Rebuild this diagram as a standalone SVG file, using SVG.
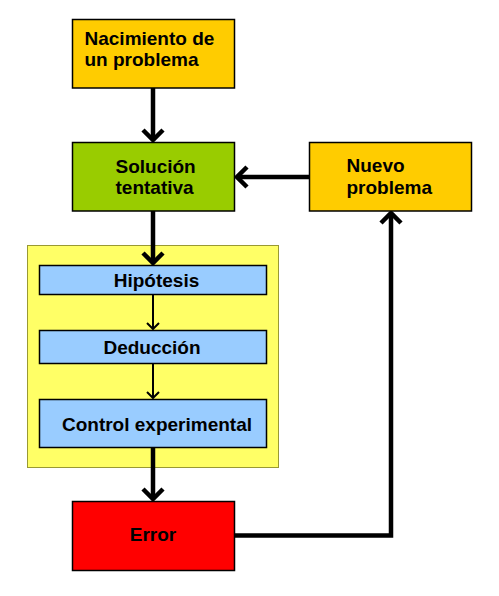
<svg xmlns="http://www.w3.org/2000/svg" width="499" height="596" viewBox="0 0 499 596">
<style>
.box{stroke:#000;stroke-width:1.5}
.t{font-family:"Liberation Sans",Arial,sans-serif;font-weight:bold;font-size:19px;fill:#000}
.thick{stroke:#000;stroke-width:4.5;fill:none}
.thin{stroke:#000;stroke-width:2;fill:none}
</style>
<defs>
<marker id="ah" markerUnits="userSpaceOnUse" viewBox="-14 -13 16 26" markerWidth="16" markerHeight="26" refX="0" refY="0" orient="auto">
<path d="M-10,-10 L0,0 L-10,10" fill="none" stroke="#000" stroke-width="4.5"/>
</marker>
<marker id="as" markerUnits="userSpaceOnUse" viewBox="-9 -8 10 16" markerWidth="10" markerHeight="16" refX="0" refY="0" orient="auto">
<path d="M-6,-6 L0,0 L-6,6" fill="none" stroke="#000" stroke-width="2"/>
</marker>
</defs>
<rect width="499" height="596" fill="#fff"/>
<g id="container">
<rect x="27.5" y="245.5" width="251" height="222" fill="#FFFF66" stroke="#999933" stroke-width="1"/>
</g>
<g id="connectors">
<line class="thick" x1="153" y1="88" x2="153" y2="140" marker-end="url(#ah)"/>
<line class="thick" x1="309" y1="177" x2="237" y2="177" marker-end="url(#ah)"/>
<line class="thick" x1="153" y1="211" x2="153" y2="263" marker-end="url(#ah)"/>
<line class="thin" x1="153" y1="294" x2="153" y2="329" marker-end="url(#as)"/>
<line class="thin" x1="153" y1="363" x2="153" y2="398" marker-end="url(#as)"/>
<line class="thick" x1="153" y1="447" x2="153" y2="499" marker-end="url(#ah)"/>
<polyline class="thick" points="234.5,535.5 391,535.5 391,213" marker-end="url(#ah)"/>
</g>
<g id="nacimiento">
<rect class="box" x="72.5" y="19.5" width="162" height="68.5" fill="#FFCC00"/>
<text class="t" x="84.5" y="45">Nacimiento de</text>
<text class="t" x="84.5" y="66">un problema</text>
</g>
<g id="solucion">
<rect class="box" x="72.5" y="142.5" width="162" height="68.5" fill="#99CC00"/>
<text class="t" x="115.5" y="172.5">Solución</text>
<text class="t" x="115.5" y="194">tentativa</text>
</g>
<g id="nuevo">
<rect class="box" x="309.5" y="142.5" width="162" height="68.5" fill="#FFCC00"/>
<text class="t" x="346.5" y="172">Nuevo</text>
<text class="t" x="346.5" y="193.5">problema</text>
</g>
<g id="hipotesis">
<rect class="box" x="39.5" y="265.5" width="227" height="29" fill="#99CCFF"/>
<text class="t" x="156.5" y="286.5" text-anchor="middle">Hipótesis</text>
</g>
<g id="deduccion">
<rect class="box" x="39.5" y="330.5" width="227" height="33" fill="#99CCFF"/>
<text class="t" x="152" y="354" text-anchor="middle">Deducción</text>
</g>
<g id="control">
<rect class="box" x="39.5" y="399.5" width="227" height="48" fill="#99CCFF"/>
<text class="t" x="157" y="431" text-anchor="middle">Control experimental</text>
</g>
<g id="error">
<rect class="box" x="72.5" y="501.5" width="162" height="69" fill="#FF0000"/>
<text class="t" x="153" y="541" text-anchor="middle">Error</text>
</g>
</svg>
